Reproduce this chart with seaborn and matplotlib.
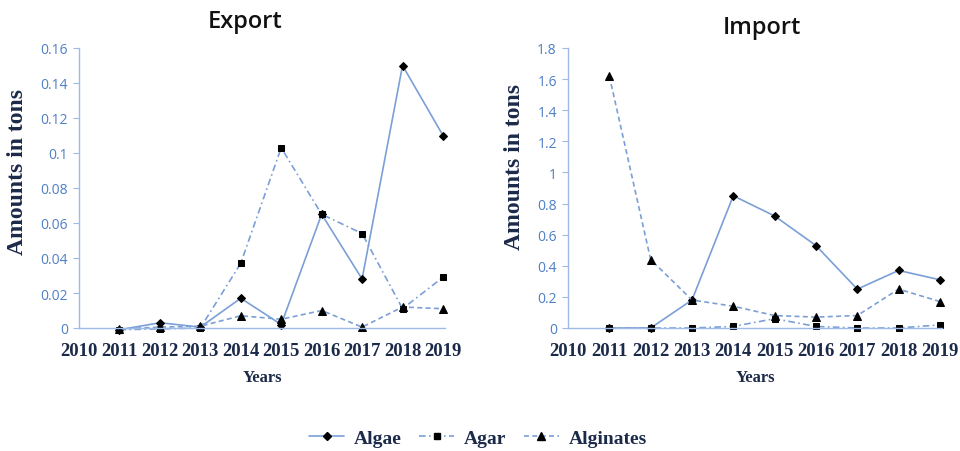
import matplotlib
matplotlib.use("Agg")
import matplotlib.pyplot as plt
import seaborn as sns
import pandas as pd
from matplotlib.lines import Line2D

sns.set_style("white")

years = [2011, 2012, 2013, 2014, 2015, 2016, 2017, 2018, 2019]
tick_years = [2010, 2011, 2012, 2013, 2014, 2015, 2016, 2017, 2018, 2019]

export_algae = [-0.001, 0.003, 0.0005, 0.017, 0.002, 0.065, 0.028, 0.150, 0.110]
export_agar = [-0.001, -0.0005, 0.0, 0.037, 0.103, 0.065, 0.054, 0.011, 0.029]
export_alginates = [-0.0005, 0.0005, 0.001, 0.007, 0.005, 0.010, 0.0005, 0.012, 0.011]

import_algae = [0.0, 0.0, 0.18, 0.85, 0.72, 0.53, 0.25, 0.37, 0.31]
import_agar = [0.0, 0.0, 0.0, 0.01, 0.06, 0.01, 0.0, 0.0, 0.02]
import_alginates = [1.62, 0.44, 0.18, 0.14, 0.08, 0.07, 0.08, 0.25, 0.17]

series_names = ["Algae", "Agar", "Alginates"]
export_yticks = [0, 0.02, 0.04, 0.06, 0.08, 0.1, 0.12, 0.14, 0.16]
export_ylabels = ["0", "0.02", "0.04", "0.06", "0.08", "0.1", "0.12", "0.14", "0.16"]
import_yticks = [0, 0.2, 0.4, 0.6, 0.8, 1.0, 1.2, 1.4, 1.6, 1.8]
import_ylabels = ["0", "0.2", "0.4", "0.6", "0.8", "1", "1.2", "1.4", "1.6", "1.8"]

line_color = "#7b9fd6"
axis_color = "#9dbbe6"
ytick_color = "#4f7fc4"
xtick_color = "#1c2a4a"
styles = {
    "Algae": dict(ls="-", marker="D", ms=4.5),
    "Agar": dict(ls=(0, (4, 2, 1, 2)), marker="s", ms=5),
    "Alginates": dict(ls=(0, (3, 2)), marker="^", ms=6),
}

fig = plt.figure(figsize=(9.6, 4.52), dpi=100)
ax1 = fig.add_axes([79/960, (452-329)/452, 366/960, 280/452])
ax2 = fig.add_axes([568/960, (452-329)/452, 374/960, 280/452])

serif = "Liberation Serif"
title_x = {"Export": 245/960, "Import": 762/960}

def draw(ax, data, yticks, ylabels, ymax, title, title_y):
    for name, vals in zip(series_names, data):
        df = pd.DataFrame({"year": years, "value": vals})
        st = styles[name]
        sns.lineplot(data=df, x="year", y="value", ax=ax, color=line_color,
                     lw=1.2, linestyle=st["ls"], marker=st["marker"],
                     markersize=st["ms"], markerfacecolor="black",
                     markeredgecolor="black", clip_on=False)
    ax.set_xlim(2010, 2019.05)
    ax.set_ylim(0, ymax)
    ax.set_xticks(tick_years)
    ax.set_xticklabels([str(y) for y in tick_years], fontfamily=serif,
                       fontweight="bold", fontsize=13.5, color=xtick_color)
    ax.set_yticks(yticks)
    ax.set_yticklabels(ylabels, fontfamily="Open Sans", fontsize=10, color=ytick_color)
    for s in ["top", "right"]:
        ax.spines[s].set_visible(False)
    for s in ["left", "bottom"]:
        ax.spines[s].set_color(axis_color)
        ax.spines[s].set_linewidth(1.0)
    ax.tick_params(axis="y", length=4, color=axis_color, direction="out", pad=4, left=True)
    ax.tick_params(axis="x", length=0, pad=10)
    ax.set_xlabel("Years", fontfamily=serif, fontweight="bold", fontsize=12,
                  color=xtick_color, labelpad=7)
    ax.set_ylabel("Amounts in tons", fontfamily=serif, fontweight="bold",
                  fontsize=17, color=xtick_color)
    ax.grid(False)
    fig.text(title_x[title], title_y, title, fontfamily="Open Sans", fontweight="semibold",
             fontsize=17, ha="center", va="center", color="#111111")

draw(ax1, [export_algae, export_agar, export_alginates], export_yticks,
     export_ylabels, 0.16, "Export", 1 - 22/452)
draw(ax2, [import_algae, import_agar, import_alginates], import_yticks,
     import_ylabels, 1.8, "Import", 1 - 28/452)
ax1.yaxis.set_label_coords(-0.14, 0.56)
ax2.yaxis.set_label_coords(-0.115, 0.58)

handles = [Line2D([0], [0], color=line_color, lw=1.2, linestyle=styles[n]["ls"],
                  marker=styles[n]["marker"], markersize=styles[n]["ms"],
                  markerfacecolor="black", markeredgecolor="black")
           for n in series_names]
fig.legend(handles, series_names, loc="center", bbox_to_anchor=(478/960, 1 - 439/452),
           ncol=3, frameon=False, handlelength=1.8, columnspacing=0.9, handletextpad=0.5,
           prop=dict(family=serif, weight="bold", size=14), labelcolor=xtick_color)

fig.savefig("out.png", dpi=100)
